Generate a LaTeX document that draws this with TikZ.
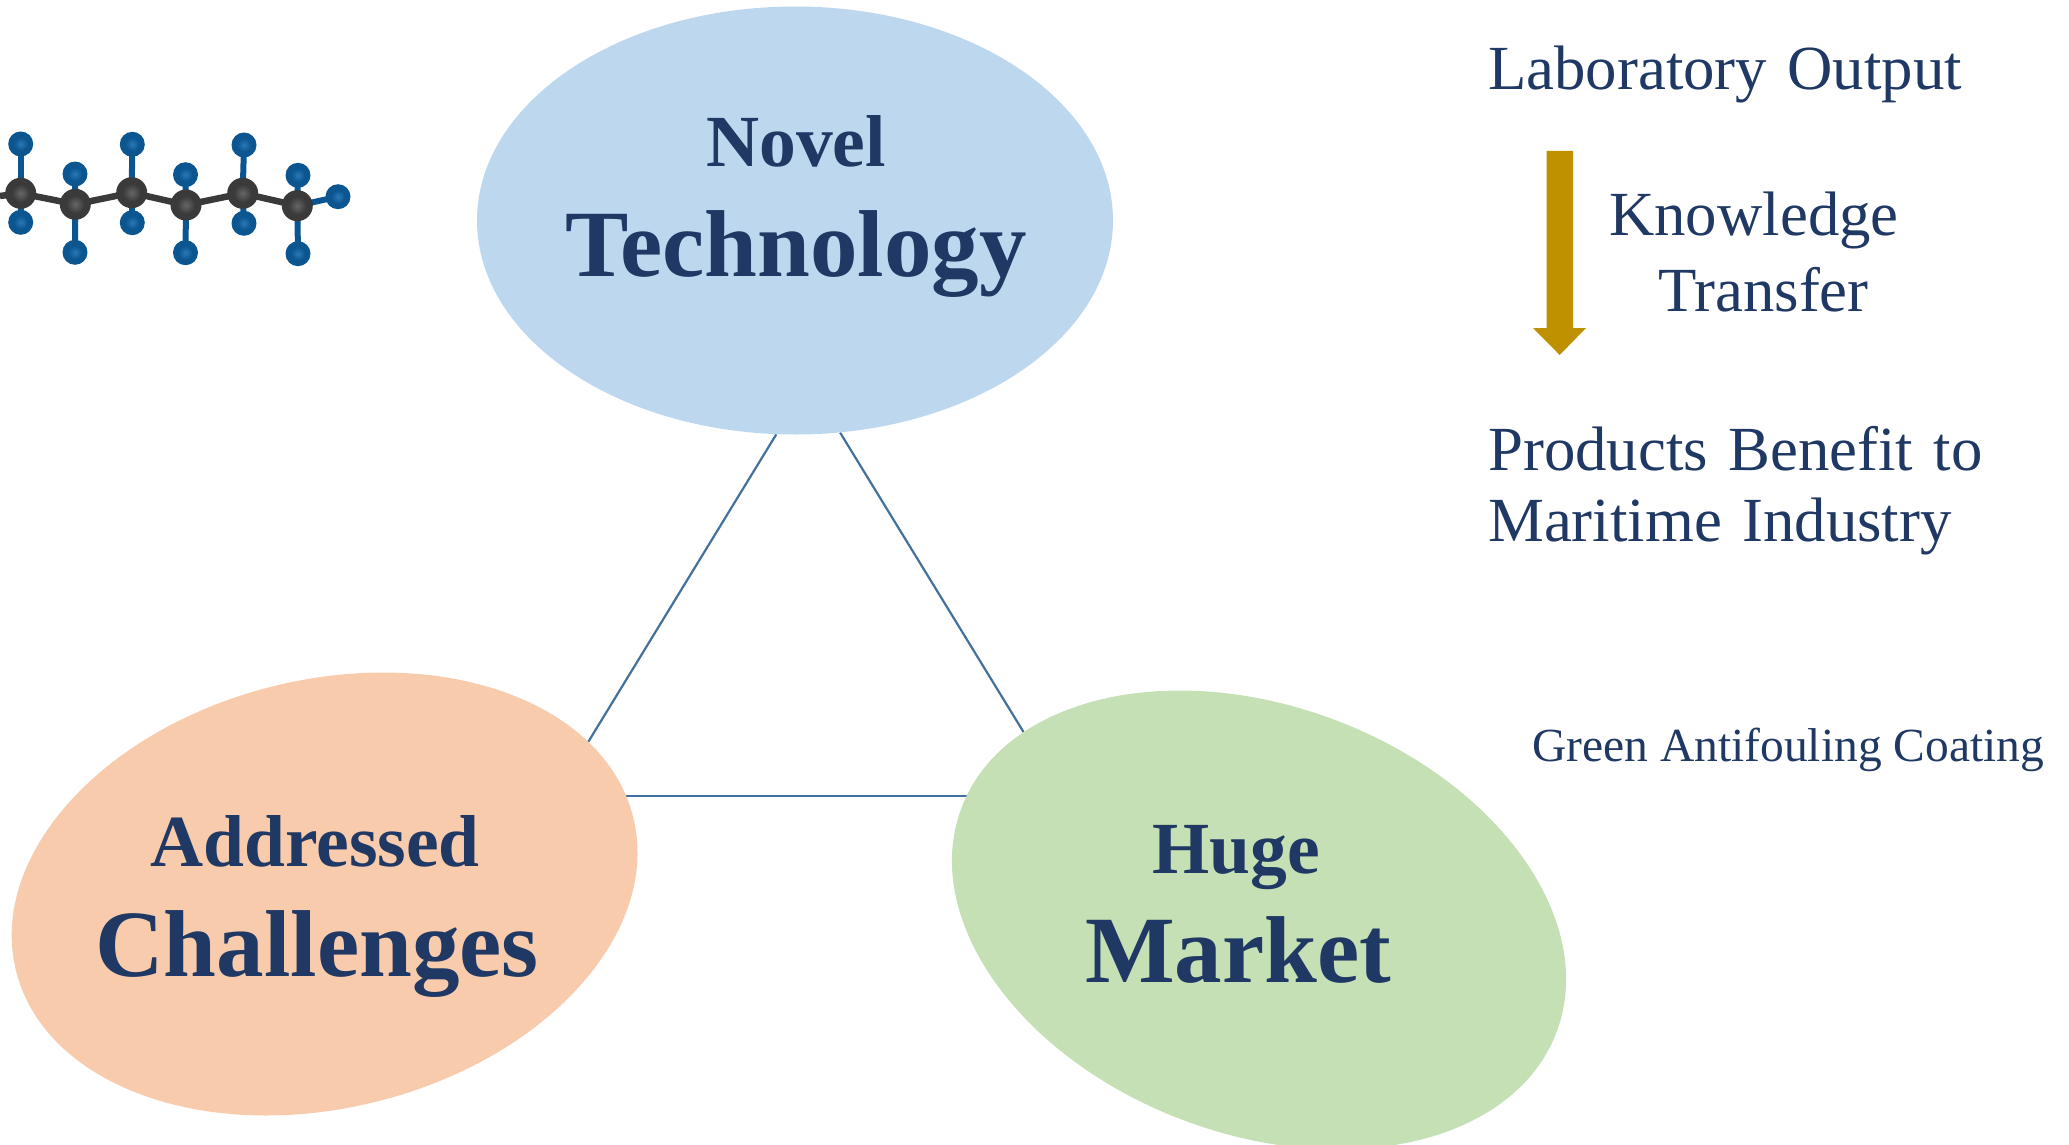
\documentclass[tikz,border=0pt]{standalone}
\usepackage{fontspec}
\setmainfont{Liberation Serif}
\newfontfamily\notefam[WordSpace=1.3]{Liberation Serif}
\usetikzlibrary{shapes.geometric,backgrounds}
\definecolor{navy}{HTML}{1F3864}
\definecolor{techfill}{HTML}{BDD7EE}
\definecolor{chalfill}{HTML}{F8CBAD}
\definecolor{mktfill}{HTML}{C5E0B4}
\definecolor{gold}{HTML}{BF9000}
\definecolor{linkc}{HTML}{41719C}
\definecolor{fdark}{HTML}{0B5590}
\definecolor{flight}{HTML}{2A78B5}
\definecolor{cdark}{HTML}{3A3A3A}
\definecolor{clight}{HTML}{666666}
\tikzset{
  blob/.style={ellipse,minimum width=636pt,minimum height=428pt,inner sep=0pt},
  link/.style={draw=linkc,line width=2.2pt},
  small/.style={anchor=base,text=navy,font=\bfseries\fontsize{73.5}{73.5}\selectfont,inner sep=0pt},
  large/.style={anchor=base,text=navy,font=\bfseries\fontsize{95}{95}\selectfont,inner sep=0pt},
  note/.style={anchor=base west,text=navy,font=\notefam\fontsize{62.8}{62.8}\selectfont,inner sep=0pt},
  cbond/.style={draw=cdark,line width=6.5pt},
  fbond/.style={draw=fdark,line width=6pt},
}
\newcommand{\fatom}[1]{\fill[fdark] #1 circle (12.5pt); \shade[inner color=flight,outer color=fdark] #1 circle (7pt);}
\newcommand{\catom}[1]{\fill[cdark] #1 circle (15.5pt); \shade[inner color=clight,outer color=cdark] #1 circle (9pt);}
\begin{document}
\begin{tikzpicture}[x=1pt,y=-1pt]
\useasboundingbox (0,0) rectangle (2069,1145);
% ellipses
\node[blob,fill=techfill] (tech) at (795,220.5) {};
\node[blob,fill=chalfill,rotate=14] (chal) at (324.6,894) {};
\node[blob,fill=mktfill,rotate=-20.6] (mkt) at (1259,920) {};
\coordinate (level) at (800,796);
% connectors
\begin{scope}[on background layer]
\draw[link] (tech.265.7) -- (chal.16.4);
\draw[link] (tech.282.0) -- (mkt.162.1);
\draw[link] (chal.center |- level) -- (mkt.center |- level);
\end{scope}
% ellipse text
\node[small] (t1) at (796,166) {Novel};
\node[large] (t2) at (796,276) {Technology};
\node[small] (c1) at (315,866) {Addressed};
\node[large] (c2) at (317,976) {Challenges};
\node[small] (m1) at (1236,873) {Huge};
\node[large] (m2) at (1238,982) {Market};
% right column
\node[note] (lab) at (1488,90) {Laboratory Output};
\node[note] (kn) at (1609,235) {Knowledge};
\node[note] (tr) at (1658,311) {Transfer};
\node[note] (pr) at (1488,470) {Products Benefit to};
\node[note] (ma) at (1488,541) {Maritime Industry};
\node[note,font=\fontsize{47.5}{47.5}\selectfont] (gr) at (1532,761) {Green Antifouling Coating};
\fill[gold] (1546.5,151) -- (1573,151) -- (1573,328) -- (1586,328) -- (1559.7,355) -- (1533,328) -- (1546.5,328) -- cycle;
% molecule
\coordinate (C0) at (20.7,193.3);
\coordinate (C1) at (75.3,204.3);
\coordinate (C2) at (131.7,192.7);
\coordinate (C3) at (186,205);
\coordinate (C4) at (242.7,193.3);
\coordinate (C5) at (297.3,205.7);
\coordinate (Fend) at (338,196.7);
\coordinate (Lead) at (0,196);
\foreach \a/\b in {Lead/C0,C0/C1,C1/C2,C2/C3,C3/C4,C4/C5}{\draw[cbond] (\a) -- (\b);}
\draw[fbond] (C5) -- (Fend);
% upper carbons: F above and below
\foreach \n/\x/\yu/\yd in {C0/20.7/144/222.3,C2/132.3/144.3/222.7,C4/244/145/223.3}{
  \draw[fbond] (\n) -- (\x,\yu);
  \draw[fbond] (\n) -- (\x,\yd);
  \fatom{(\x,\yu)} \fatom{(\x,\yd)}
}
% lower carbons
\foreach \n/\x/\yu/\yd in {C1/75/174/252.3,C3/185.5/174.7/252.7,C5/298/175.3/253.7}{
  \draw[fbond] (\n) -- (\x,\yu);
  \draw[fbond] (\n) -- (\x,\yd);
  \fatom{(\x,\yu)} \fatom{(\x,\yd)}
}
\fatom{(Fend)}
\foreach \n in {C0,C1,C2,C3,C4,C5}{\catom{(\n)}}
\end{tikzpicture}
\end{document}
